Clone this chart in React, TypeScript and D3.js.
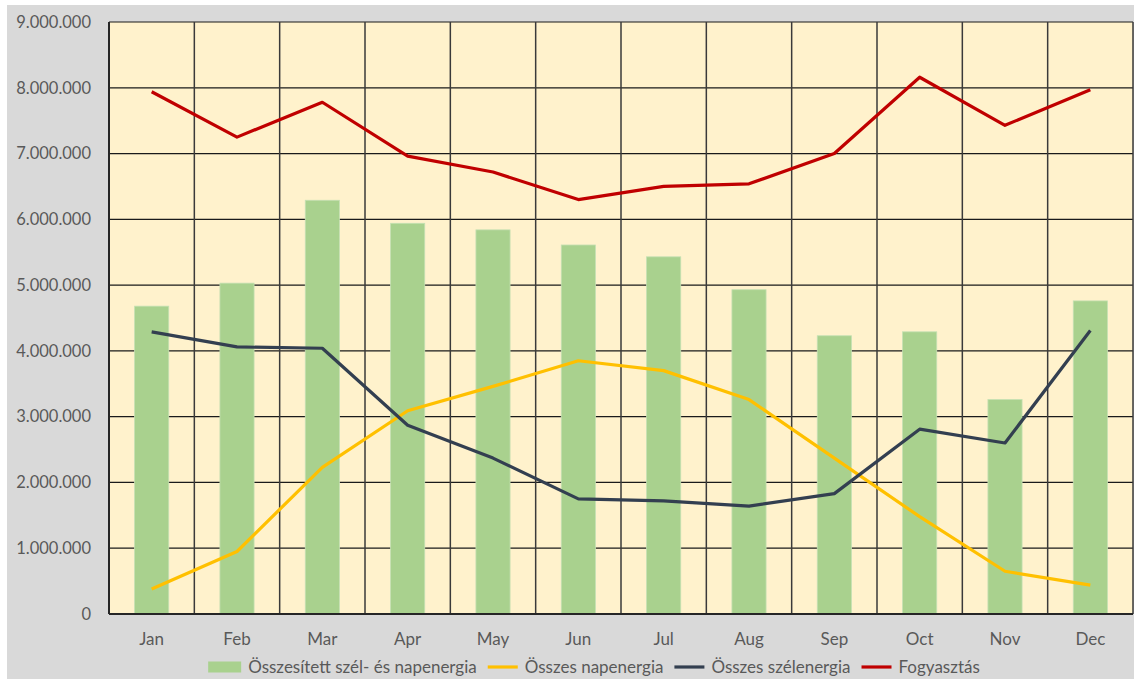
import React, { useLayoutEffect, useRef, useState } from 'react';
import * as d3 from 'd3';

const months = ['Jan', 'Feb', 'Mar', 'Apr', 'May', 'Jun', 'Jul', 'Aug', 'Sep', 'Oct', 'Nov', 'Dec'];
const combinedEnergy = [4680000, 5030000, 6290000, 5940000, 5840000, 5610000, 5430000, 4930000, 4230000, 4290000, 3260000, 4760000];
const solarEnergy = [380000, 950000, 2230000, 3090000, 3460000, 3850000, 3700000, 3260000, 2370000, 1480000, 650000, 440000];
const windEnergy = [4290000, 4060000, 4040000, 2870000, 2370000, 1750000, 1720000, 1640000, 1830000, 2810000, 2600000, 4310000];
const consumption = [7940000, 7250000, 7780000, 6960000, 6720000, 6300000, 6500000, 6540000, 7000000, 8160000, 7430000, 7970000];
const yTicks = [0, 1000000, 2000000, 3000000, 4000000, 5000000, 6000000, 7000000, 8000000, 9000000];
const legendLabels = ['Összesített szél- és napenergia', 'Összes napenergia', 'Összes szélenergia', 'Fogyasztás'];

const W = 1134;
const H = 682;
const M = { left: 109, right: 1133, top: 22, bottom: 614 };
const FONT = 'Lato, "Open Sans", sans-serif';
const TEXT = '#595959';
const C_BAR = '#a9d18e';
const C_SUN = '#ffc000';
const C_WIND = '#333f50';
const C_CONS = '#c00000';

const fmt = (v: number) => (v === 0 ? '0' : d3.format(',')(v).replace(/,/g, '.'));

export default function App() {
  const x = d3.scaleBand<string>().domain(months).range([M.left, M.right]).paddingInner(0).paddingOuter(0);
  const y = d3.scaleLinear().domain([0, 9000000]).range([M.bottom, M.top]);
  const bw = x.bandwidth() * 0.4;
  const cx = (m: string) => (x(m) as number) + x.bandwidth() / 2;

  const line = d3
    .line<number>()
    .x((_, i) => cx(months[i]))
    .y((d) => y(d));

  const legendRef = useRef<SVGGElement>(null);
  const [widths, setWidths] = useState<number[] | null>(null);
  useLayoutEffect(() => {
    if (!legendRef.current) return;
    const texts = Array.from(legendRef.current.querySelectorAll('text.meas')) as SVGTextElement[];
    setWidths(texts.map((t) => t.getComputedTextLength()));
  }, []);

  const legendFont = 17;
  const swatchW = [33, 30, 30, 30];
  const gapSwText = 7;
  const gapItem = 11;
  let legendItems: { sx: number; tx: number }[] = [];
  if (widths) {
    const total = widths.reduce((s, w, i) => s + swatchW[i] + gapSwText + w, 0) + gapItem * (widths.length - 1);
    let cur = 594 - total / 2;
    legendItems = widths.map((w, i) => {
      const it = { sx: cur, tx: cur + swatchW[i] + gapSwText };
      cur += swatchW[i] + gapSwText + w + gapItem;
      return it;
    });
  }
  const ly = 667;

  return (
    <svg width={W} height={H} style={{ position: 'absolute', left: 0, top: 0 }} fontFamily={FONT}>
      <rect x={0} y={0} width={W} height={H} fill="#ffffff" />
      <rect x={7} y={5} width={W - 7} height={674} fill="#d9d9d9" />
      <rect x={M.left} y={M.top} width={M.right - M.left} height={M.bottom - M.top} fill="#fff2cc" />

      {yTicks.map((t) => (
        <line key={'h' + t} x1={M.left} x2={M.right} y1={y(t)} y2={y(t)} stroke="#1a1a1a" strokeWidth={1.2} />
      ))}
      {months.map((m) => (
        <line key={'v' + m} x1={x(m) as number} x2={x(m) as number} y1={M.top} y2={M.bottom} stroke="#3a3a3a" strokeWidth={1.5} />
      ))}
      <line x1={M.right} x2={M.right} y1={M.top} y2={M.bottom} stroke="#3a3a3a" strokeWidth={1.5} />

      {months.map((m, i) => (
        <rect
          key={'b' + m}
          x={cx(m) - bw / 2}
          y={y(combinedEnergy[i])}
          width={bw}
          height={y(0) - y(combinedEnergy[i])}
          fill={C_BAR}
          stroke="#c5e0b3"
          strokeWidth={0.8}
        />
      ))}

      <line x1={M.left} x2={M.left} y1={M.top} y2={M.bottom} stroke="#262626" strokeWidth={2} />
      <line x1={M.left} x2={M.right} y1={M.bottom} y2={M.bottom} stroke="#262626" strokeWidth={2} />

      <path d={line(solarEnergy) || ''} fill="none" stroke={C_SUN} strokeWidth={3.2} strokeLinejoin="round" />
      <path d={line(windEnergy) || ''} fill="none" stroke={C_WIND} strokeWidth={3.2} strokeLinejoin="round" />
      <path d={line(consumption) || ''} fill="none" stroke={C_CONS} strokeWidth={3.2} strokeLinejoin="round" />

      {yTicks.map((t) => (
        <text key={'yl' + t} x={91} y={y(t)} dy="0.35em" textAnchor="end" fontSize={16.5} fill={TEXT}>
          {fmt(t)}
        </text>
      ))}
      {months.map((m) => (
        <text key={'xl' + m} x={cx(m)} y={639} dy="0.35em" textAnchor="middle" fontSize={17} fill={TEXT}>
          {m}
        </text>
      ))}

      <g ref={legendRef}>
        {legendLabels.map((l, i) => (
          <text key={'lm' + i} className="meas" x={0} y={-100} fontSize={legendFont} visibility="hidden">
            {l}
          </text>
        ))}
        {widths &&
          legendItems.map((it, i) => (
            <g key={'lg' + i}>
              {i === 0 ? (
                <rect x={it.sx} y={ly - 5.5} width={swatchW[0]} height={11} fill={C_BAR} />
              ) : (
                <line
                  x1={it.sx}
                  x2={it.sx + swatchW[i]}
                  y1={ly}
                  y2={ly}
                  stroke={[C_BAR, C_SUN, C_WIND, C_CONS][i]}
                  strokeWidth={3.2}
                />
              )}
              <text x={it.tx} y={ly} dy="0.35em" fontSize={legendFont} fill={TEXT}>
                {legendLabels[i]}
              </text>
            </g>
          ))}
      </g>
    </svg>
  );
}
